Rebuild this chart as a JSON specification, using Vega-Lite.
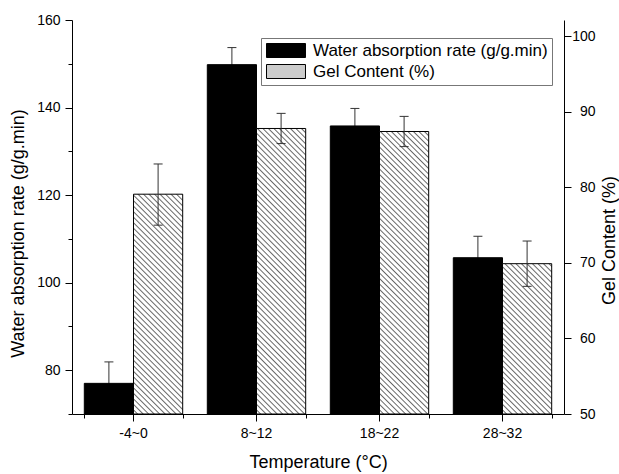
{
"$schema": "https://vega.github.io/schema/vega-lite/v6.json",
"width": 492,
"height": 394,
"autosize": {"type": "none"},
"padding": {"left": 72, "top": 20, "right": 55, "bottom": 60},
"background": "#ffffff",
"config": {
  "view": {"stroke": null},
  "font": "Liberation Sans",
  "axis": {"labelFont": "Liberation Sans", "titleFont": "Liberation Sans", "labelFontSize": 14, "titleFontSize": 18, "titleFontWeight": "normal", "labelColor": "#000", "titleColor": "#000", "domainColor": "#000", "tickColor": "#000", "grid": false, "domainWidth": 1, "tickWidth": 1}
},
"data": {"values": [
  {"temp": "-4~0", "series": "Water absorption rate (g/g.min)", "value": 77.0, "lo": 72.1, "hi": 81.9},
  {"temp": "8~12", "series": "Water absorption rate (g/g.min)", "value": 149.8, "lo": 145.9, "hi": 153.7},
  {"temp": "18~22", "series": "Water absorption rate (g/g.min)", "value": 135.8, "lo": 131.8, "hi": 139.8},
  {"temp": "28~32", "series": "Water absorption rate (g/g.min)", "value": 105.7, "lo": 100.7, "hi": 110.6},
  {"temp": "-4~0", "series": "Gel Content (%)", "value": 79.1, "lo": 75.0, "hi": 83.1},
  {"temp": "8~12", "series": "Gel Content (%)", "value": 87.8, "lo": 85.8, "hi": 89.8},
  {"temp": "18~22", "series": "Gel Content (%)", "value": 87.4, "lo": 85.4, "hi": 89.4},
  {"temp": "28~32", "series": "Gel Content (%)", "value": 69.9, "lo": 66.9, "hi": 72.9}
]},
"resolve": {"scale": {"y": "independent"}, "axis": {"x": "independent"}},
"layer": [
  {
    "transform": [{"filter": "datum.series === 'Water absorption rate (g/g.min)'"}],
    "encoding": {
      "x": {"field": "temp", "type": "nominal", "sort": ["-4~0", "8~12", "18~22", "28~32"], "scale": {"paddingInner": 0.2, "paddingOuter": 0.1},
        "axis": {"orient": "bottom", "title": "Temperature (°C)", "labelAngle": 0, "tickSize": 7, "labelPadding": 5, "titleY": 48, "titleBaseline": "middle"}},
      "xOffset": {"field": "series", "type": "nominal", "scale": {"domain": ["Water absorption rate (g/g.min)", "Gel Content (%)"], "paddingInner": 0, "paddingOuter": 0}}
    },
    "layer": [
      {"mark": {"type": "rule", "color": "#333", "strokeWidth": 1},
       "encoding": {
         "y": {"field": "hi", "type": "quantitative", "scale": {"domain": [70, 160], "nice": false, "zero": false},
           "axis": {"orient": "left", "title": "Water absorption rate (g/g.min)", "values": [70, 80, 90, 100, 110, 120, 130, 140, 150, 160], "labelExpr": "datum.value % 20 === 0 ? datum.label : ''", "tickSize": {"condition": {"test": "datum.value % 20 === 0", "value": 7}, "value": 4}, "labelPadding": 5, "titleAngle": 270, "titleX": -54, "titleY": 213, "titleBaseline": "middle", "titleAlign": "center"}},
         "y2": {"field": "lo"}}},
      {"mark": {"type": "tick", "color": "#333", "size": 9, "thickness": 1, "opacity": 1},
       "encoding": {"y": {"field": "hi", "type": "quantitative", "title": "Water absorption rate (g/g.min)"}}},
      {"mark": {"type": "tick", "color": "#333", "size": 9, "thickness": 1, "opacity": 1},
       "encoding": {"y": {"field": "lo", "type": "quantitative", "title": "Water absorption rate (g/g.min)"}}},
      {"mark": {"type": "bar", "stroke": "#000", "strokeWidth": 1},
       "encoding": {
         "y": {"field": "value", "type": "quantitative", "title": "Water absorption rate (g/g.min)"},
         "y2": {"datum": 70},
         "fill": {"field": "series", "type": "nominal", "scale": {"domain": ["Water absorption rate (g/g.min)", "Gel Content (%)"], "range": ["#000000", "#cccccc"]}}}}
    ]
  },
  {
    "transform": [{"filter": "datum.series === 'Gel Content (%)'"}],
    "encoding": {
      "x": {"field": "temp", "type": "nominal", "sort": ["-4~0", "8~12", "18~22", "28~32"], "scale": {"paddingInner": 0.2, "paddingOuter": 0.1},
        "axis": {"orient": "bottom", "title": null, "labels": false, "domain": false, "tickBand": "extent", "tickSize": 4}},
      "xOffset": {"field": "series", "type": "nominal", "scale": {"domain": ["Water absorption rate (g/g.min)", "Gel Content (%)"], "paddingInner": 0, "paddingOuter": 0}}
    },
    "layer": [
      {"mark": {"type": "bar", "stroke": "#000", "strokeWidth": 1},
       "encoding": {
         "y": {"field": "value", "type": "quantitative", "scale": {"domain": [50, 102.16], "nice": false, "zero": false},
           "axis": {"orient": "right", "title": "Gel Content (%)", "values": [50, 55, 60, 65, 70, 75, 80, 85, 90, 95, 100], "labelExpr": "datum.value % 10 === 0 ? datum.label : ''", "tickSize": {"condition": {"test": "datum.value % 10 === 0", "value": 7}, "value": 4}, "labelPadding": 24, "labelAlign": "right", "titleAngle": 270, "titleX": 45, "titleY": 220, "titleBaseline": "middle", "titleAlign": "center"}},
         "y2": {"datum": 50},
         "fill": {"field": "series", "type": "nominal", "scale": {"domain": ["Water absorption rate (g/g.min)", "Gel Content (%)"], "range": ["#000000", "#cccccc"]},
           "legend": {"orient": "none", "legendX": 189, "legendY": 18, "title": null, "padding": 4, "strokeColor": "#777", "fillColor": "#fff", "labelFontSize": 17, "labelFont": "Liberation Sans", "labelColor": "#000", "labelLimit": 0, "symbolType": "M-1,-1L4.571,-1L4.571,1L-1,1Z", "symbolSize": 196, "symbolStrokeColor": "#000", "symbolStrokeWidth": 1, "labelOffset": 31, "rowPadding": 2},
           "condition": [
             {"test": "datum.temp === '-4~0'", "value": {"gradient": "linear", "x1": 0, "y1": 1, "x2": 0.3336, "y2": -0.4904, "stops": [
{"offset":0,"color":"#fff"},{"offset":0.008,"color":"#fff"},{"offset":0.012,"color":"#666"},
{"offset":0.016,"color":"#fff"},{"offset":0.024,"color":"#fff"},{"offset":0.028,"color":"#666"},
{"offset":0.032,"color":"#fff"},{"offset":0.04,"color":"#fff"},{"offset":0.044,"color":"#666"},
{"offset":0.048,"color":"#fff"},{"offset":0.056,"color":"#fff"},{"offset":0.06,"color":"#666"},
{"offset":0.064,"color":"#fff"},{"offset":0.072,"color":"#fff"},{"offset":0.076,"color":"#666"},
{"offset":0.08,"color":"#fff"},{"offset":0.088,"color":"#fff"},{"offset":0.092,"color":"#666"},
{"offset":0.096,"color":"#fff"},{"offset":0.104,"color":"#fff"},{"offset":0.108,"color":"#666"},
{"offset":0.112,"color":"#fff"},{"offset":0.12,"color":"#fff"},{"offset":0.124,"color":"#666"},
{"offset":0.128,"color":"#fff"},{"offset":0.136,"color":"#fff"},{"offset":0.14,"color":"#666"},
{"offset":0.144,"color":"#fff"},{"offset":0.152,"color":"#fff"},{"offset":0.156,"color":"#666"},
{"offset":0.16,"color":"#fff"},{"offset":0.168,"color":"#fff"},{"offset":0.172,"color":"#666"},
{"offset":0.176,"color":"#fff"},{"offset":0.184,"color":"#fff"},{"offset":0.188,"color":"#666"},
{"offset":0.192,"color":"#fff"},{"offset":0.2,"color":"#fff"},{"offset":0.204,"color":"#666"},
{"offset":0.208,"color":"#fff"},{"offset":0.216,"color":"#fff"},{"offset":0.22,"color":"#666"},
{"offset":0.224,"color":"#fff"},{"offset":0.232,"color":"#fff"},{"offset":0.236,"color":"#666"},
{"offset":0.24,"color":"#fff"},{"offset":0.248,"color":"#fff"},{"offset":0.252,"color":"#666"},
{"offset":0.256,"color":"#fff"},{"offset":0.264,"color":"#fff"},{"offset":0.268,"color":"#666"},
{"offset":0.272,"color":"#fff"},{"offset":0.28,"color":"#fff"},{"offset":0.284,"color":"#666"},
{"offset":0.288,"color":"#fff"},{"offset":0.296,"color":"#fff"},{"offset":0.3,"color":"#666"},
{"offset":0.304,"color":"#fff"},{"offset":0.312,"color":"#fff"},{"offset":0.316,"color":"#666"},
{"offset":0.32,"color":"#fff"},{"offset":0.328,"color":"#fff"},{"offset":0.332,"color":"#666"},
{"offset":0.336,"color":"#fff"},{"offset":0.344,"color":"#fff"},{"offset":0.348,"color":"#666"},
{"offset":0.352,"color":"#fff"},{"offset":0.36,"color":"#fff"},{"offset":0.364,"color":"#666"},
{"offset":0.368,"color":"#fff"},{"offset":0.376,"color":"#fff"},{"offset":0.38,"color":"#666"},
{"offset":0.384,"color":"#fff"},{"offset":0.392,"color":"#fff"},{"offset":0.396,"color":"#666"},
{"offset":0.4,"color":"#fff"},{"offset":0.408,"color":"#fff"},{"offset":0.412,"color":"#666"},
{"offset":0.416,"color":"#fff"},{"offset":0.424,"color":"#fff"},{"offset":0.428,"color":"#666"},
{"offset":0.432,"color":"#fff"},{"offset":0.44,"color":"#fff"},{"offset":0.444,"color":"#666"},
{"offset":0.448,"color":"#fff"},{"offset":0.456,"color":"#fff"},{"offset":0.46,"color":"#666"},
{"offset":0.464,"color":"#fff"},{"offset":0.472,"color":"#fff"},{"offset":0.476,"color":"#666"},
{"offset":0.48,"color":"#fff"},{"offset":0.488,"color":"#fff"},{"offset":0.492,"color":"#666"},
{"offset":0.496,"color":"#fff"},{"offset":0.504,"color":"#fff"},{"offset":0.508,"color":"#666"},
{"offset":0.512,"color":"#fff"},{"offset":0.52,"color":"#fff"},{"offset":0.524,"color":"#666"},
{"offset":0.528,"color":"#fff"},{"offset":0.536,"color":"#fff"},{"offset":0.54,"color":"#666"},
{"offset":0.544,"color":"#fff"},{"offset":0.552,"color":"#fff"},{"offset":0.556,"color":"#666"},
{"offset":0.56,"color":"#fff"},{"offset":0.568,"color":"#fff"},{"offset":0.572,"color":"#666"},
{"offset":0.576,"color":"#fff"},{"offset":0.584,"color":"#fff"},{"offset":0.588,"color":"#666"},
{"offset":0.592,"color":"#fff"},{"offset":0.6,"color":"#fff"},{"offset":0.604,"color":"#666"},
{"offset":0.608,"color":"#fff"},{"offset":0.616,"color":"#fff"},{"offset":0.62,"color":"#666"},
{"offset":0.624,"color":"#fff"},{"offset":0.632,"color":"#fff"},{"offset":0.636,"color":"#666"},
{"offset":0.64,"color":"#fff"},{"offset":0.648,"color":"#fff"},{"offset":0.652,"color":"#666"},
{"offset":0.656,"color":"#fff"},{"offset":0.664,"color":"#fff"},{"offset":0.668,"color":"#666"},
{"offset":0.672,"color":"#fff"},{"offset":0.68,"color":"#fff"},{"offset":0.684,"color":"#666"},
{"offset":0.688,"color":"#fff"},{"offset":0.696,"color":"#fff"},{"offset":0.7,"color":"#666"},
{"offset":0.704,"color":"#fff"},{"offset":0.712,"color":"#fff"},{"offset":0.716,"color":"#666"},
{"offset":0.72,"color":"#fff"},{"offset":0.728,"color":"#fff"},{"offset":0.732,"color":"#666"},
{"offset":0.736,"color":"#fff"},{"offset":0.744,"color":"#fff"},{"offset":0.748,"color":"#666"},
{"offset":0.752,"color":"#fff"},{"offset":0.76,"color":"#fff"},{"offset":0.764,"color":"#666"},
{"offset":0.768,"color":"#fff"},{"offset":0.776,"color":"#fff"},{"offset":0.78,"color":"#666"},
{"offset":0.784,"color":"#fff"}
             ]}},
             {"test": "datum.temp === '28~32'", "value": {"gradient": "linear", "x1": 0, "y1": 1, "x2": 0.6767, "y2": -1.0672, "stops": [
{"offset":0,"color":"#fff"},{"offset":0.008,"color":"#fff"},{"offset":0.012,"color":"#666"},
{"offset":0.016,"color":"#fff"},{"offset":0.024,"color":"#fff"},{"offset":0.028,"color":"#666"},
{"offset":0.032,"color":"#fff"},{"offset":0.04,"color":"#fff"},{"offset":0.044,"color":"#666"},
{"offset":0.048,"color":"#fff"},{"offset":0.056,"color":"#fff"},{"offset":0.06,"color":"#666"},
{"offset":0.064,"color":"#fff"},{"offset":0.072,"color":"#fff"},{"offset":0.076,"color":"#666"},
{"offset":0.08,"color":"#fff"},{"offset":0.088,"color":"#fff"},{"offset":0.092,"color":"#666"},
{"offset":0.096,"color":"#fff"},{"offset":0.104,"color":"#fff"},{"offset":0.108,"color":"#666"},
{"offset":0.112,"color":"#fff"},{"offset":0.12,"color":"#fff"},{"offset":0.124,"color":"#666"},
{"offset":0.128,"color":"#fff"},{"offset":0.136,"color":"#fff"},{"offset":0.14,"color":"#666"},
{"offset":0.144,"color":"#fff"},{"offset":0.152,"color":"#fff"},{"offset":0.156,"color":"#666"},
{"offset":0.16,"color":"#fff"},{"offset":0.168,"color":"#fff"},{"offset":0.172,"color":"#666"},
{"offset":0.176,"color":"#fff"},{"offset":0.184,"color":"#fff"},{"offset":0.188,"color":"#666"},
{"offset":0.192,"color":"#fff"},{"offset":0.2,"color":"#fff"},{"offset":0.204,"color":"#666"},
{"offset":0.208,"color":"#fff"},{"offset":0.216,"color":"#fff"},{"offset":0.22,"color":"#666"},
{"offset":0.224,"color":"#fff"},{"offset":0.232,"color":"#fff"},{"offset":0.236,"color":"#666"},
{"offset":0.24,"color":"#fff"},{"offset":0.248,"color":"#fff"},{"offset":0.252,"color":"#666"},
{"offset":0.256,"color":"#fff"},{"offset":0.264,"color":"#fff"},{"offset":0.268,"color":"#666"},
{"offset":0.272,"color":"#fff"},{"offset":0.28,"color":"#fff"},{"offset":0.284,"color":"#666"},
{"offset":0.288,"color":"#fff"},{"offset":0.296,"color":"#fff"},{"offset":0.3,"color":"#666"},
{"offset":0.304,"color":"#fff"},{"offset":0.312,"color":"#fff"},{"offset":0.316,"color":"#666"},
{"offset":0.32,"color":"#fff"},{"offset":0.328,"color":"#fff"},{"offset":0.332,"color":"#666"},
{"offset":0.336,"color":"#fff"},{"offset":0.344,"color":"#fff"},{"offset":0.348,"color":"#666"},
{"offset":0.352,"color":"#fff"},{"offset":0.36,"color":"#fff"},{"offset":0.364,"color":"#666"},
{"offset":0.368,"color":"#fff"},{"offset":0.376,"color":"#fff"},{"offset":0.38,"color":"#666"},
{"offset":0.384,"color":"#fff"},{"offset":0.392,"color":"#fff"},{"offset":0.396,"color":"#666"},
{"offset":0.4,"color":"#fff"},{"offset":0.408,"color":"#fff"},{"offset":0.412,"color":"#666"},
{"offset":0.416,"color":"#fff"},{"offset":0.424,"color":"#fff"},{"offset":0.428,"color":"#666"},
{"offset":0.432,"color":"#fff"},{"offset":0.44,"color":"#fff"},{"offset":0.444,"color":"#666"},
{"offset":0.448,"color":"#fff"},{"offset":0.456,"color":"#fff"},{"offset":0.46,"color":"#666"},
{"offset":0.464,"color":"#fff"},{"offset":0.472,"color":"#fff"},{"offset":0.476,"color":"#666"},
{"offset":0.48,"color":"#fff"},{"offset":0.488,"color":"#fff"},{"offset":0.492,"color":"#666"},
{"offset":0.496,"color":"#fff"},{"offset":0.504,"color":"#fff"},{"offset":0.508,"color":"#666"},
{"offset":0.512,"color":"#fff"},{"offset":0.52,"color":"#fff"},{"offset":0.524,"color":"#666"},
{"offset":0.528,"color":"#fff"},{"offset":0.536,"color":"#fff"},{"offset":0.54,"color":"#666"},
{"offset":0.544,"color":"#fff"},{"offset":0.552,"color":"#fff"},{"offset":0.556,"color":"#666"},
{"offset":0.56,"color":"#fff"},{"offset":0.568,"color":"#fff"},{"offset":0.572,"color":"#666"},
{"offset":0.576,"color":"#fff"},{"offset":0.584,"color":"#fff"},{"offset":0.588,"color":"#666"},
{"offset":0.592,"color":"#fff"}
             ]}},
             {"test": "datum.temp === '8~12' || datum.temp === '18~22'", "value": {"gradient": "linear", "x1": 0, "y1": 1, "x2": 0.2037, "y2": -0.176, "stops": [
{"offset":0,"color":"#fff"},{"offset":0.008,"color":"#fff"},{"offset":0.012,"color":"#666"},
{"offset":0.016,"color":"#fff"},{"offset":0.024,"color":"#fff"},{"offset":0.028,"color":"#666"},
{"offset":0.032,"color":"#fff"},{"offset":0.04,"color":"#fff"},{"offset":0.044,"color":"#666"},
{"offset":0.048,"color":"#fff"},{"offset":0.056,"color":"#fff"},{"offset":0.06,"color":"#666"},
{"offset":0.064,"color":"#fff"},{"offset":0.072,"color":"#fff"},{"offset":0.076,"color":"#666"},
{"offset":0.08,"color":"#fff"},{"offset":0.088,"color":"#fff"},{"offset":0.092,"color":"#666"},
{"offset":0.096,"color":"#fff"},{"offset":0.104,"color":"#fff"},{"offset":0.108,"color":"#666"},
{"offset":0.112,"color":"#fff"},{"offset":0.12,"color":"#fff"},{"offset":0.124,"color":"#666"},
{"offset":0.128,"color":"#fff"},{"offset":0.136,"color":"#fff"},{"offset":0.14,"color":"#666"},
{"offset":0.144,"color":"#fff"},{"offset":0.152,"color":"#fff"},{"offset":0.156,"color":"#666"},
{"offset":0.16,"color":"#fff"},{"offset":0.168,"color":"#fff"},{"offset":0.172,"color":"#666"},
{"offset":0.176,"color":"#fff"},{"offset":0.184,"color":"#fff"},{"offset":0.188,"color":"#666"},
{"offset":0.192,"color":"#fff"},{"offset":0.2,"color":"#fff"},{"offset":0.204,"color":"#666"},
{"offset":0.208,"color":"#fff"},{"offset":0.216,"color":"#fff"},{"offset":0.22,"color":"#666"},
{"offset":0.224,"color":"#fff"},{"offset":0.232,"color":"#fff"},{"offset":0.236,"color":"#666"},
{"offset":0.24,"color":"#fff"},{"offset":0.248,"color":"#fff"},{"offset":0.252,"color":"#666"},
{"offset":0.256,"color":"#fff"},{"offset":0.264,"color":"#fff"},{"offset":0.268,"color":"#666"},
{"offset":0.272,"color":"#fff"},{"offset":0.28,"color":"#fff"},{"offset":0.284,"color":"#666"},
{"offset":0.288,"color":"#fff"},{"offset":0.296,"color":"#fff"},{"offset":0.3,"color":"#666"},
{"offset":0.304,"color":"#fff"},{"offset":0.312,"color":"#fff"},{"offset":0.316,"color":"#666"},
{"offset":0.32,"color":"#fff"},{"offset":0.328,"color":"#fff"},{"offset":0.332,"color":"#666"},
{"offset":0.336,"color":"#fff"},{"offset":0.344,"color":"#fff"},{"offset":0.348,"color":"#666"},
{"offset":0.352,"color":"#fff"},{"offset":0.36,"color":"#fff"},{"offset":0.364,"color":"#666"},
{"offset":0.368,"color":"#fff"},{"offset":0.376,"color":"#fff"},{"offset":0.38,"color":"#666"},
{"offset":0.384,"color":"#fff"},{"offset":0.392,"color":"#fff"},{"offset":0.396,"color":"#666"},
{"offset":0.4,"color":"#fff"},{"offset":0.408,"color":"#fff"},{"offset":0.412,"color":"#666"},
{"offset":0.416,"color":"#fff"},{"offset":0.424,"color":"#fff"},{"offset":0.428,"color":"#666"},
{"offset":0.432,"color":"#fff"},{"offset":0.44,"color":"#fff"},{"offset":0.444,"color":"#666"},
{"offset":0.448,"color":"#fff"},{"offset":0.456,"color":"#fff"},{"offset":0.46,"color":"#666"},
{"offset":0.464,"color":"#fff"},{"offset":0.472,"color":"#fff"},{"offset":0.476,"color":"#666"},
{"offset":0.48,"color":"#fff"},{"offset":0.488,"color":"#fff"},{"offset":0.492,"color":"#666"},
{"offset":0.496,"color":"#fff"},{"offset":0.504,"color":"#fff"},{"offset":0.508,"color":"#666"},
{"offset":0.512,"color":"#fff"},{"offset":0.52,"color":"#fff"},{"offset":0.524,"color":"#666"},
{"offset":0.528,"color":"#fff"},{"offset":0.536,"color":"#fff"},{"offset":0.54,"color":"#666"},
{"offset":0.544,"color":"#fff"},{"offset":0.552,"color":"#fff"},{"offset":0.556,"color":"#666"},
{"offset":0.56,"color":"#fff"},{"offset":0.568,"color":"#fff"},{"offset":0.572,"color":"#666"},
{"offset":0.576,"color":"#fff"},{"offset":0.584,"color":"#fff"},{"offset":0.588,"color":"#666"},
{"offset":0.592,"color":"#fff"},{"offset":0.6,"color":"#fff"},{"offset":0.604,"color":"#666"},
{"offset":0.608,"color":"#fff"},{"offset":0.616,"color":"#fff"},{"offset":0.62,"color":"#666"},
{"offset":0.624,"color":"#fff"},{"offset":0.632,"color":"#fff"},{"offset":0.636,"color":"#666"},
{"offset":0.64,"color":"#fff"},{"offset":0.648,"color":"#fff"},{"offset":0.652,"color":"#666"},
{"offset":0.656,"color":"#fff"},{"offset":0.664,"color":"#fff"},{"offset":0.668,"color":"#666"},
{"offset":0.672,"color":"#fff"},{"offset":0.68,"color":"#fff"},{"offset":0.684,"color":"#666"},
{"offset":0.688,"color":"#fff"},{"offset":0.696,"color":"#fff"},{"offset":0.7,"color":"#666"},
{"offset":0.704,"color":"#fff"},{"offset":0.712,"color":"#fff"},{"offset":0.716,"color":"#666"},
{"offset":0.72,"color":"#fff"},{"offset":0.728,"color":"#fff"},{"offset":0.732,"color":"#666"},
{"offset":0.736,"color":"#fff"},{"offset":0.744,"color":"#fff"},{"offset":0.748,"color":"#666"},
{"offset":0.752,"color":"#fff"},{"offset":0.76,"color":"#fff"},{"offset":0.764,"color":"#666"},
{"offset":0.768,"color":"#fff"},{"offset":0.776,"color":"#fff"},{"offset":0.78,"color":"#666"},
{"offset":0.784,"color":"#fff"},{"offset":0.792,"color":"#fff"},{"offset":0.796,"color":"#666"},
{"offset":0.8,"color":"#fff"},{"offset":0.808,"color":"#fff"},{"offset":0.812,"color":"#666"},
{"offset":0.816,"color":"#fff"},{"offset":0.824,"color":"#fff"},{"offset":0.828,"color":"#666"},
{"offset":0.832,"color":"#fff"},{"offset":0.84,"color":"#fff"},{"offset":0.844,"color":"#666"},
{"offset":0.848,"color":"#fff"},{"offset":0.856,"color":"#fff"},{"offset":0.86,"color":"#666"},
{"offset":0.864,"color":"#fff"},{"offset":0.872,"color":"#fff"},{"offset":0.876,"color":"#666"},
{"offset":0.88,"color":"#fff"},{"offset":0.888,"color":"#fff"},{"offset":0.892,"color":"#666"},
{"offset":0.896,"color":"#fff"},{"offset":0.904,"color":"#fff"},{"offset":0.908,"color":"#666"},
{"offset":0.912,"color":"#fff"},{"offset":0.92,"color":"#fff"},{"offset":0.924,"color":"#666"},
{"offset":0.928,"color":"#fff"},{"offset":0.936,"color":"#fff"},{"offset":0.94,"color":"#666"},
{"offset":0.944,"color":"#fff"},{"offset":0.952,"color":"#fff"},{"offset":0.956,"color":"#666"},
{"offset":0.96,"color":"#fff"},{"offset":0.968,"color":"#fff"},{"offset":0.972,"color":"#666"},
{"offset":0.976,"color":"#fff"}
             ]}}
           ]}}},
      {"mark": {"type": "rule", "color": "#333", "strokeWidth": 1},
       "encoding": {"y": {"field": "hi", "type": "quantitative", "title": "Gel Content (%)"}, "y2": {"field": "lo"}}},
      {"mark": {"type": "tick", "color": "#333", "size": 9, "thickness": 1, "opacity": 1},
       "encoding": {"y": {"field": "hi", "type": "quantitative", "title": "Gel Content (%)"}}},
      {"mark": {"type": "tick", "color": "#333", "size": 9, "thickness": 1, "opacity": 1},
       "encoding": {"y": {"field": "lo", "type": "quantitative", "title": "Gel Content (%)"}}}
    ]
  }
]
}
